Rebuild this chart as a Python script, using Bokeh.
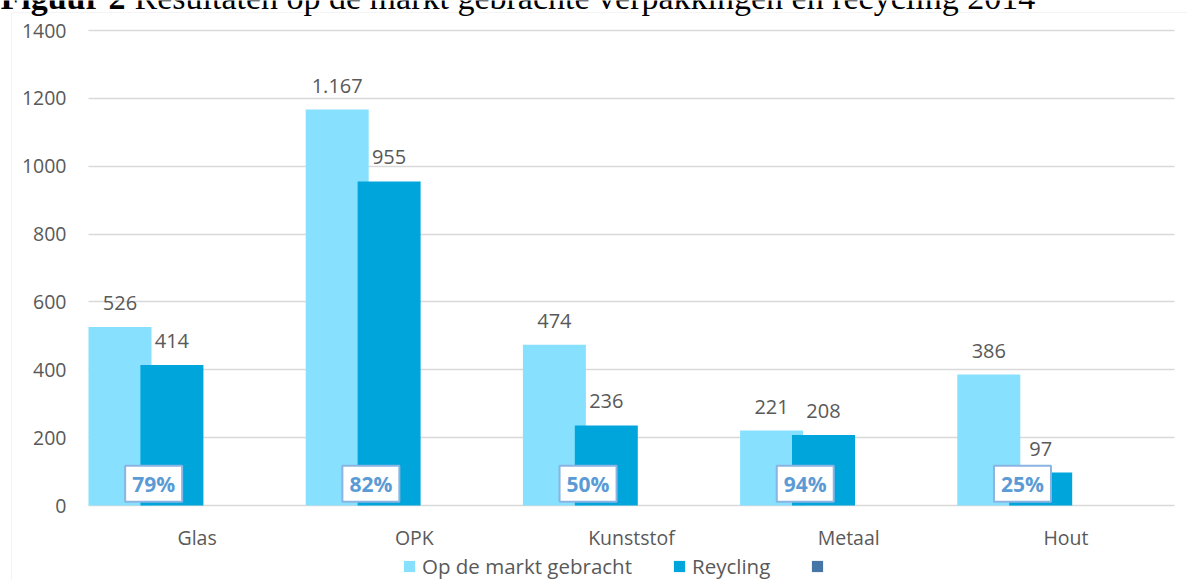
from bokeh.plotting import figure
from bokeh.models import (ColumnDataSource, Range1d, FixedTicker, LabelSet,
                          Legend, LegendItem, Label, BoxAnnotation)
from bokeh.transform import dodge
from bokeh.core.properties import value
from bokeh.embed import file_html
from bokeh.resources import INLINE

# ---- data ----
categories = ["Glas", "OPK", "Kunststof", "Metaal", "Hout"]
op_de_markt = [526, 1167, 474, 221, 386]
recycling = [414, 955, 236, 208, 97]
percentages = ["79%", "82%", "50%", "94%", "25%"]
y_ticks = [0, 200, 400, 600, 800, 1000, 1200, 1400]
series_names = ["Op de markt gebracht", "Reycling", " "]
title_bold = "Figuur 2"
title_rest = "Resultaten op de markt gebrachte verpakkingen en recycling 2014"


def nl(v):
    return f"{v:,}".replace(",", ".")


centers = [i + 0.5 for i in range(len(categories))]

src = ColumnDataSource(data=dict(
    xc=centers,
    markt=op_de_markt,
    recyc=recycling,
    markt_lbl=[nl(v) for v in op_de_markt],
    recyc_lbl=[nl(v) for v in recycling],
    pct=percentages,
))

# ---- layout (pixels on the canvas) ----
W, H = 1187, 580
PX_L, PX_R = 88, 1174          # left / right end of the category area
PY_TOP, PY_ZERO = 30, 505      # pixel rows of 1400 and 0
Y_MAX = 1400
CAT_W = (PX_R - PX_L) / len(categories)
K = (PY_ZERO - PY_TOP) / Y_MAX


def px2x(px):
    return (px - PX_L) / CAT_W


def px2y(py):
    return (PY_ZERO - py) / K


# ---- style ----
LIGHT = "#87E0FD"
DARK = "#00A5DB"
THIRD = "#4676A6"
TXT = "#595959"
GRID = "#D9D9D9"
FONT = value("Open Sans")
BAR_W = 0.29
OFF_1 = -0.355
OFF_2 = -0.116
OFF_BOX = -0.2
BOX_Y = 64

p = figure(x_range=Range1d(px2x(0), px2x(W)), y_range=Range1d(px2y(H), px2y(0)),
           width=W, height=H, output_backend="svg", toolbar_location=None,
           min_border=0, min_border_left=0, min_border_right=0,
           min_border_top=0, min_border_bottom=0)
p.outline_line_color = None
p.background_fill_color = "white"
p.border_fill_color = "white"

# chart border (behind everything)
p.add_layout(BoxAnnotation(left=px2x(11), top=px2y(12), right=px2x(W + 30), bottom=px2y(H + 30),
                           fill_alpha=0, line_color=GRID, line_width=1, level="underlay"))

# gridlines
grid = p.ygrid[0]
grid.ticker = FixedTicker(ticks=y_ticks)
grid.grid_line_color = GRID
grid.grid_line_width = 1.5
if "cross_bounds" in grid.properties():
    grid.cross_bounds = (0, len(categories))
else:
    grid.grid_line_color = None
    p.segment(x0=[0] * len(y_ticks), x1=[len(categories)] * len(y_ticks),
              y0=y_ticks, y1=y_ticks, line_color=GRID, line_width=1.5)
p.xgrid.grid_line_color = None

r1 = p.vbar(x=dodge("xc", OFF_1), top="markt", width=BAR_W,
            source=src, fill_color=LIGHT, line_color=None)
r2 = p.vbar(x=dodge("xc", OFF_2), top="recyc", width=BAR_W,
            source=src, fill_color=DARK, line_color=None)
# third (empty) series: only present in the legend
third = ColumnDataSource(data=dict(xc=[centers[0]], v=[0]))
r3 = p.vbar(x="xc", top="v", width=BAR_W, source=third, fill_color=THIRD, line_color=None)

# value labels
for off, col, ycol in ((OFF_1, "markt_lbl", "markt"), (OFF_2, "recyc_lbl", "recyc")):
    p.add_layout(LabelSet(x=dodge("xc", off), y=ycol, text=col, source=src,
                          text_align="center", text_baseline="alphabetic", y_offset=17,
                          text_font=FONT, text_font_size="20px", text_color=TXT))

# percentage boxes
p.rect(x=dodge("xc", OFF_BOX), y=BOX_Y, width=57, height=36,
       width_units="screen", height_units="screen", source=src,
       fill_color="white", line_color="#8AB4E2", line_width=2)
p.text(x=dodge("xc", OFF_BOX), y=BOX_Y, text="pct", source=src,
       text_align="center", text_baseline="middle", text_font=FONT,
       text_font_style="bold", text_font_size="21px", text_color="#5B9BD5")

# axes
for ax in (p.xaxis[0], p.yaxis[0]):
    ax.axis_line_color = None
    ax.major_tick_line_color = None
    ax.minor_tick_line_color = None
    ax.major_tick_out = 0
    ax.major_tick_in = 0
    ax.major_label_text_font = "Open Sans"
    ax.major_label_text_font_size = "19.5px"
    ax.major_label_text_color = TXT
    ax.fixed_location = 0
p.yaxis.ticker = FixedTicker(ticks=y_ticks)
p.yaxis.major_label_standoff = 22
p.xaxis.ticker = FixedTicker(ticks=centers)
p.xaxis.major_label_overrides = {c: name for c, name in zip(centers, categories)}
p.xaxis.major_label_standoff = 18

# legend
legend = Legend(items=[LegendItem(label=series_names[0], renderers=[r1]),
                       LegendItem(label=series_names[1], renderers=[r2]),
                       LegendItem(label=series_names[2], renderers=[r3])],
                orientation="horizontal", location=(402, 0),
                glyph_width=14, glyph_height=14, label_standoff=6, spacing=40,
                padding=0, margin=0, border_line_color=None, background_fill_alpha=0,
                label_text_font="Open Sans", label_text_font_size="20.5px",
                label_text_color=TXT)
p.add_layout(legend)

# (cropped) title
TITLE_Y = px2y(-3)
p.add_layout(Label(x=px2x(0), y=TITLE_Y, text=title_bold,
                   text_font="Liberation Serif", text_font_style="bold",
                   text_font_size="34px", text_color="black", text_baseline="alphabetic"))
p.add_layout(Label(x=px2x(134), y=TITLE_Y, text=title_rest,
                   text_font="Liberation Serif", text_font_size="34px",
                   text_color="black", text_baseline="alphabetic"))

open("out.html", "w").write(file_html(p, INLINE))
